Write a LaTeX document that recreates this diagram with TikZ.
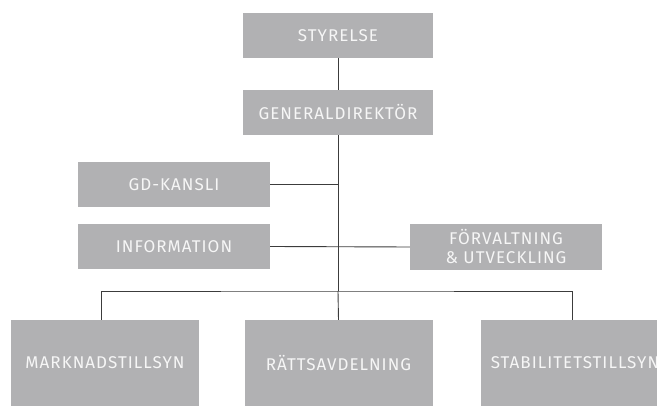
\documentclass[tikz,border=0pt]{standalone}
\usepackage{fontspec}
\setmainfont{Fira Sans}[LetterSpace=6]
\definecolor{boxfill}{HTML}{B1B1B3}
\definecolor{boxtext}{HTML}{F6F6F6}
\definecolor{linecol}{HTML}{3C3C3C}
\begin{document}
\begin{tikzpicture}[x=1pt,y=-1pt,
  orgbox/.style={fill=boxfill,text=boxtext,inner sep=0pt,minimum width=190pt,minimum height=45pt,
    font=\fontsize{17}{20}\selectfont,align=center},
  lowbox/.style={orgbox,minimum width=188pt,minimum height=86pt},
  conn/.style={draw=linecol,line width=0.9pt}]
\useasboundingbox (0,0) rectangle (657,406);
\clip (0,0) rectangle (657,406);
\node[orgbox] (sty) at (338,35.5) {STYRELSE};
\node[orgbox] (gd) at (338,112.5) {GENERALDIREKTÖR};
\node[orgbox,minimum width=192pt] (kansli) at (174,184.5) {GD-KANSLI};
\node[orgbox,minimum width=192pt] (info) at (174,246.5) {INFORMATION};
\node[orgbox,minimum width=192pt,minimum height=46pt] (forv) at (506,247) {FÖRVALTNING\\[-1pt]\&~UTVECKLING};
\node[lowbox] (mark) at (105,363) {MARKNADSTILLSYN};
\node[lowbox] (ratt) at (338.5,363) {RÄTTSAVDELNING};
\node[lowbox] (stab) at (575,363) {STABILITETSTILLSYN};
\coordinate (bus) at (338,291);
\draw[conn] (sty.south) -- (gd.north);
\draw[conn] (gd.south) -- (bus);
\draw[conn] (kansli.east) -- (kansli.east -| gd.south);
\draw[conn] (info.east) -- (forv.west);
\draw[conn] (bus) -- (ratt.north);
\draw[conn] ([xshift=-4pt]mark.north) |- (bus) -| ([xshift=-3pt]stab.north);
\end{tikzpicture}
\end{document}
